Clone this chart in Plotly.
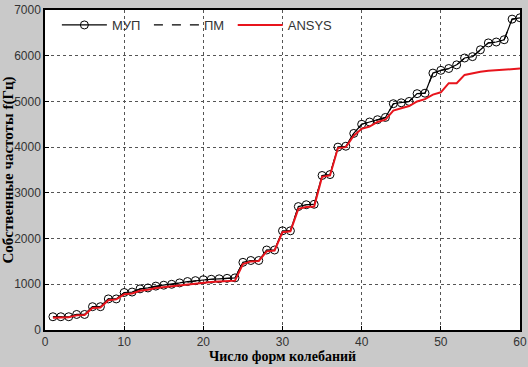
import plotly.graph_objects as go

modes = list(range(1, 61))

mup = [290, 290, 290, 340, 340, 510, 510, 680, 680, 820,
       830, 900, 920, 960, 980, 1000, 1030, 1060, 1080, 1100,
       1110, 1120, 1130, 1140, 1480, 1520, 1520, 1750, 1750, 2170,
       2170, 2700, 2740, 2750, 3380, 3400, 4000, 4020, 4300, 4500,
       4550, 4600, 4650, 4950, 4970, 5000, 5170, 5180, 5620, 5680,
       5720, 5800, 5950, 5980, 6130, 6280, 6300, 6350, 6800, 6830]

pm = [285, 285, 290, 335, 340, 505, 510, 675, 680, 815,
      830, 895, 920, 955, 980, 1000, 1025, 1055, 1080, 1095,
      1110, 1115, 1130, 1140, 1475, 1520, 1520, 1745, 1750, 2165,
      2170, 2695, 2740, 2750, 3375, 3400, 3995, 4020, 4295, 4500,
      4545, 4600, 4645, 4945, 4970, 5000, 5165, 5180, 5615, 5680,
      5715, 5800, 5945, 5980, 6125, 6280, 6295, 6350, 6795, 6830]

ansys = [270, 270, 280, 320, 330, 480, 490, 650, 670, 780,
         800, 860, 880, 920, 940, 960, 980, 1000, 1020, 1040,
         1050, 1060, 1070, 1080, 1440, 1500, 1510, 1720, 1740, 2140,
         2160, 2650, 2690, 2700, 3350, 3380, 3980, 4000, 4250, 4400,
         4450, 4550, 4600, 4800, 4850, 4900, 5000, 5050, 5150, 5200,
         5400, 5400, 5580, 5620, 5650, 5670, 5680, 5690, 5700, 5720]

x_ticks = [0, 10, 20, 30, 40, 50, 60]
y_ticks = [0, 1000, 2000, 3000, 4000, 5000, 6000, 7000]

NB = "\u00a0"

fig = go.Figure()
fig.add_trace(go.Scatter(
    x=modes, y=mup, name="МУП" + NB, mode="lines+markers",
    line=dict(color="black", width=1.2),
    marker=dict(symbol="circle-open", size=8, color="black", line=dict(width=1))))
fig.add_trace(go.Scatter(
    x=modes, y=pm, name="ПМ" + NB, mode="lines",
    line=dict(color="black", width=1.2, dash="dash")))
fig.add_trace(go.Scatter(
    x=modes, y=ansys, name="ANSYS", mode="lines",
    line=dict(color="#e8141c", width=2)))

axis_common = dict(
    showline=True, linecolor="black", linewidth=1.5, mirror=True,
    showgrid=True, gridcolor="#555555", griddash="dot", gridwidth=1,
    zeroline=False, ticks="inside", ticklen=4, tickcolor="black",
    automargin=False,
    tickfont=dict(family="Liberation Sans, Arial", size=12, color="#333333"),
)

fig.update_layout(
    width=528, height=367,
    paper_bgcolor="#c9c9c9", plot_bgcolor="white",
    margin=dict(l=45, r=8, t=10, b=37),
    showlegend=True,
    legend=dict(orientation="h", x=0.025, y=1.0, xanchor="left", yanchor="top",
                bgcolor="rgba(255,255,255,0)", borderwidth=0,
                font=dict(family="Liberation Sans, Arial", size=13, color="#333333"),
                itemwidth=45, tracegroupgap=0),
    xaxis=dict(range=[0, 60], tickvals=x_ticks,
               title=dict(text="<b>Число форм колебаний</b>", standoff=0,
                          font=dict(family="Liberation Serif, Times New Roman", size=14, color="black")),
               **axis_common),
    yaxis=dict(range=[0, 7000], tickvals=y_ticks,
               title=dict(text="<b>Собственные частоты f(Гц)</b>", standoff=2,
                          font=dict(family="Liberation Serif, Times New Roman", size=15, color="black")),
               **axis_common),
)

fig.write_html("out.html", config={"displayModeBar": False},
               post_script="document.body.style.margin='0';document.body.style.background='#c9c9c9';")
